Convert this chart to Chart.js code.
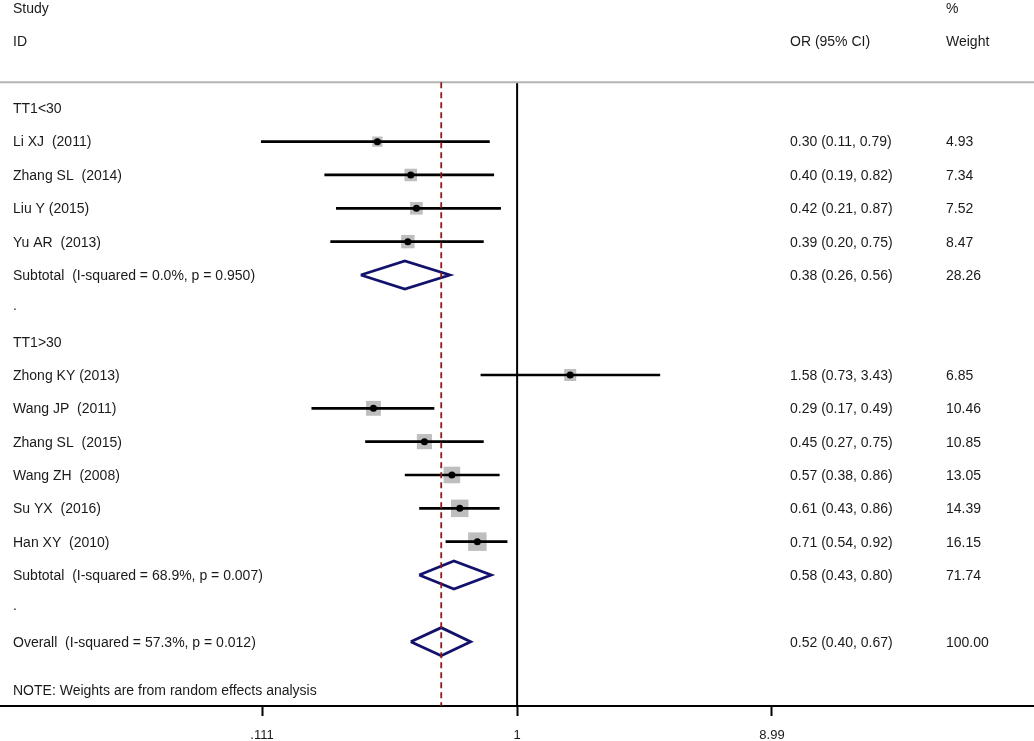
<!DOCTYPE html>
<html>
<head>
<meta charset="utf-8">
<script src="https://cdn.jsdelivr.net/npm/chart.js@4.4.1/dist/chart.umd.min.js"></script>
<style>
  html, body { margin: 0; padding: 0; background: #fff; }
  #wrap { width: 1034px; height: 741px; position: relative; }
</style>
</head>
<body>
<div id="wrap"><canvas id="forest"></canvas></div>
<script>
// individual studies
const studyNames = ['Li XJ  (2011)', 'Zhang SL  (2014)', 'Liu Y (2015)', 'Yu AR  (2013)',
    'Zhong KY (2013)', 'Wang JP  (2011)', 'Zhang SL  (2015)', 'Wang ZH  (2008)', 'Su YX  (2016)', 'Han XY  (2010)'];
const studyRows = [4, 5, 6, 7, 11, 12, 13, 14, 15, 16];
const studyOR = [0.30, 0.40, 0.42, 0.39, 1.58, 0.29, 0.45, 0.57, 0.61, 0.71];
const studyLow = [0.11, 0.19, 0.21, 0.20, 0.73, 0.17, 0.27, 0.38, 0.43, 0.54];
const studyHigh = [0.79, 0.82, 0.87, 0.75, 3.43, 0.49, 0.75, 0.86, 0.86, 0.92];
const studyWeight = [4.93, 7.34, 7.52, 8.47, 6.85, 10.46, 10.85, 13.05, 14.39, 16.15];

// pooled estimates
const pooledNames = ['Subtotal  (I-squared = 0.0%, p = 0.950)', 'Subtotal  (I-squared = 68.9%, p = 0.007)',
    'Overall  (I-squared = 57.3%, p = 0.012)'];
const pooledRows = [8, 17, 19];
const pooledOR = [0.38, 0.58, 0.52];
const pooledLow = [0.26, 0.43, 0.40];
const pooledHigh = [0.56, 0.80, 0.67];
const pooledWeight = [28.26, 71.74, 100.00];

const groupNames = ['TT1<30', 'TT1>30'];
const groupRows = [3, 10];
const spacerRows = [9, 18];

const tickValues = [0.111, 1, 8.99];
const tickLabels = ['.111', '1', '8.99'];

const overallOR = pooledOR[2];
const FONT = '"Liberation Sans", Arial, sans-serif';
const headerRow = 2.22;
const noteRow = 20.45;
const yMin = -0.249, yMax = 20.93;
const xMin = 0.01161, xMax = 85.96;

const datasets = [];

// black point estimates
datasets.push({
    data: studyOR.map((v, i) => ({ x: v, y: studyRows[i] })),
    pointStyle: 'circle', pointRadius: 3.5, backgroundColor: '#000', borderWidth: 0, order: 3
});

// confidence interval lines
studyOR.forEach((v, i) => {
    datasets.push({
        data: [{ x: studyLow[i], y: studyRows[i] }, { x: studyHigh[i], y: studyRows[i] }],
        showLine: true, borderColor: '#000', borderWidth: 2.7, pointRadius: 0, order: 4
    });
});

// weight boxes
datasets.push({
    data: studyOR.map((v, i) => ({ x: v, y: studyRows[i] })),
    pointStyle: 'rect', backgroundColor: '#bebebe', borderWidth: 0,
    pointRadius: ctx => 4.6 * Math.sqrt(studyWeight[ctx.dataIndex] || 1) / Math.SQRT2,
    order: 5
});

// diamonds for pooled estimates
const dh = 0.42;
pooledOR.forEach((v, i) => {
    const r = pooledRows[i];
    datasets.push({
        data: [{ x: pooledLow[i], y: r }, { x: v, y: r - dh }, { x: pooledHigh[i], y: r },
            { x: v, y: r + dh }, { x: pooledLow[i], y: r }],
        showLine: true, borderColor: '#12126c', borderWidth: 2.8, pointRadius: 0,
        fill: false, tension: 0, borderJoinStyle: 'miter', order: 3
    });
});

// header rule, null line and overall line
datasets.push({
    data: [{ x: xMin, y: headerRow }, { x: xMax, y: headerRow }],
    showLine: true, borderColor: '#b4b4b4', borderWidth: 2, pointRadius: 0, order: 6
});
datasets.push({
    data: [{ x: 1, y: headerRow }, { x: 1, y: yMax }],
    showLine: true, borderColor: '#000', borderWidth: 2, pointRadius: 0, order: 6
});
datasets.push({
    data: [{ x: overallOR, y: headerRow }, { x: overallOR, y: yMax }],
    showLine: true, borderColor: '#931818', borderWidth: 1.8, borderDash: [6, 4], pointRadius: 0, order: 2
});

const textColumns = {
    id: 'textColumns',
    afterDraw(chart) {
        const ctx = chart.ctx;
        const y = chart.scales.y;
        const at = r => y.getPixelForValue(r) + 1;
        ctx.save();
        ctx.fillStyle = '#1a1a1a';
        ctx.font = '14px ' + FONT;
        ctx.textBaseline = 'middle';
        ctx.textAlign = 'left';
        const colLabel = 13, colOR = 790, colW = 946;
        ctx.fillText('Study', colLabel, at(0));
        ctx.fillText('ID', colLabel, at(1));
        ctx.fillText('OR (95% CI)', colOR, at(1));
        ctx.fillText('%', colW, at(0));
        ctx.fillText('Weight', colW, at(1));
        groupNames.forEach((g, i) => ctx.fillText(g, colLabel, at(groupRows[i])));
        spacerRows.forEach(r => ctx.fillText('.', colLabel, at(r) - 3));
        const fmt = (e, l, h) => e.toFixed(2) + ' (' + l.toFixed(2) + ', ' + h.toFixed(2) + ')';
        studyNames.forEach((n, i) => {
            const py = at(studyRows[i]);
            ctx.fillText(n, colLabel, py);
            ctx.fillText(fmt(studyOR[i], studyLow[i], studyHigh[i]), colOR, py);
            ctx.fillText(studyWeight[i].toFixed(2), colW, py);
        });
        pooledNames.forEach((n, i) => {
            const py = at(pooledRows[i]);
            ctx.fillText(n, colLabel, py);
            ctx.fillText(fmt(pooledOR[i], pooledLow[i], pooledHigh[i]), colOR, py);
            ctx.fillText(pooledWeight[i].toFixed(2), colW, py);
        });
        ctx.fillText('NOTE: Weights are from random effects analysis', colLabel, at(noteRow));
        ctx.restore();
    }
};

new Chart(document.getElementById('forest'), {
    type: 'scatter',
    data: { datasets },
    options: {
        responsive: true,
        maintainAspectRatio: false,
        animation: false,
        events: [],
        layout: { padding: 0, autoPadding: false },
        plugins: { legend: { display: false }, tooltip: { enabled: false } },
        scales: {
            x: {
                type: 'logarithmic',
                min: xMin,
                max: xMax,
                bounds: 'data',
                afterBuildTicks: s => { s.ticks = tickValues.map(v => ({ value: v })); },
                afterFit: s => { s.height = 35; },
                ticks: {
                    autoSkip: false, maxRotation: 0, padding: 12,
                    color: '#1a1a1a', font: { family: FONT, size: 13 },
                    callback: (v, i) => tickLabels[i]
                },
                grid: { drawOnChartArea: false, drawTicks: true, tickLength: 10, tickColor: '#000', tickWidth: 2 },
                border: { display: true, color: '#000', width: 2 }
            },
            y: {
                type: 'linear', reverse: true, min: yMin, max: yMax, display: false
            }
        }
    },
    plugins: [textColumns]
});
</script>
</body>
</html>
